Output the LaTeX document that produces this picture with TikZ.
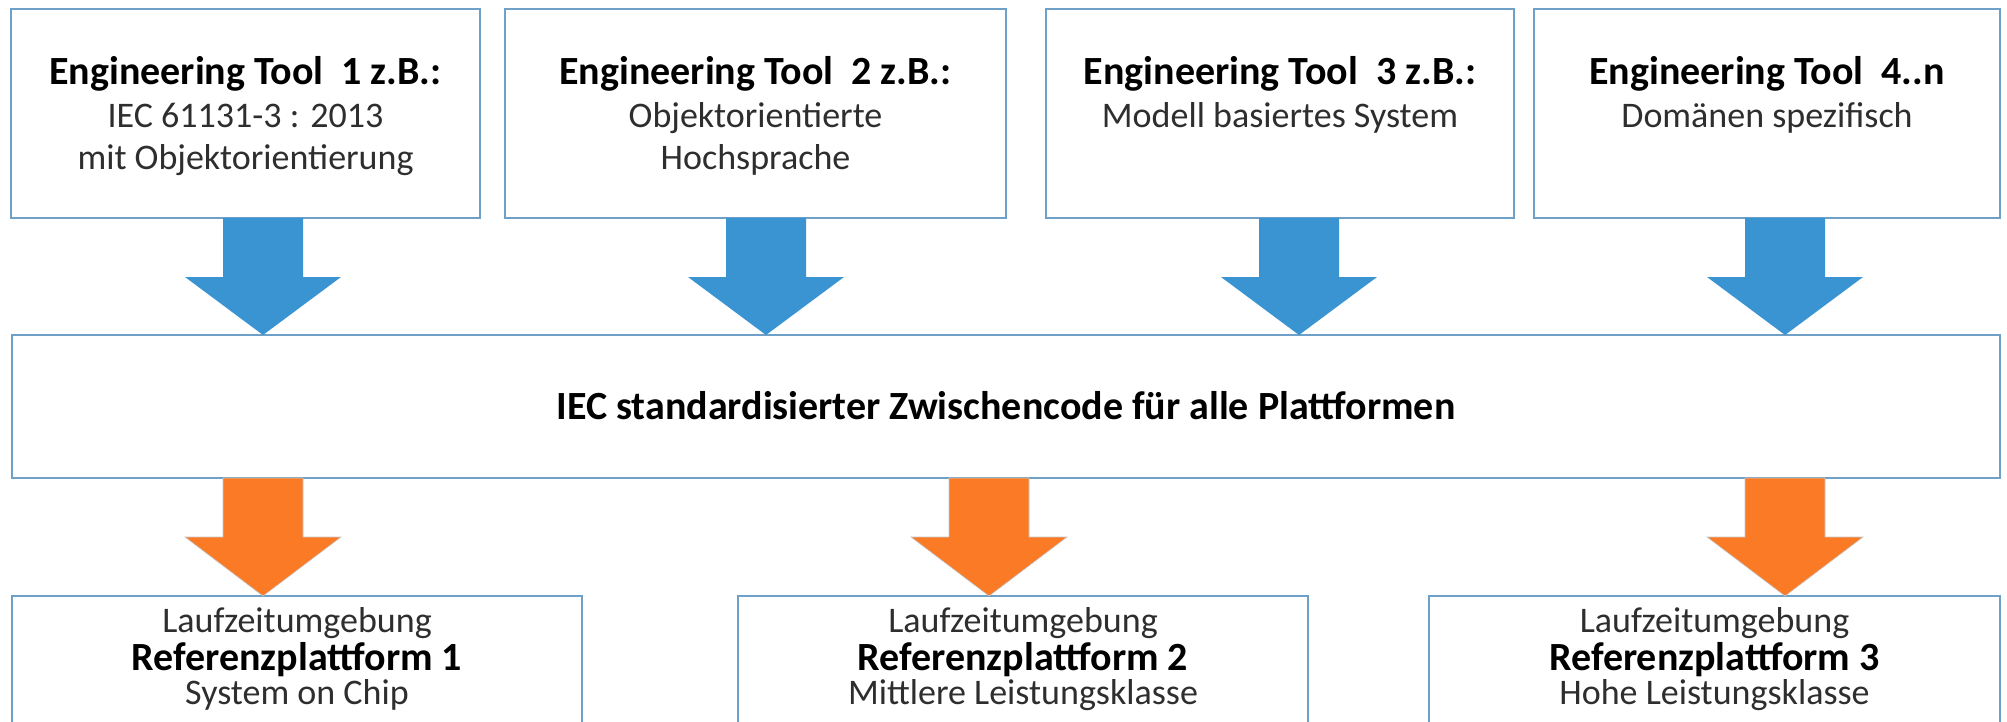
\documentclass[tikz,border=0pt]{standalone}
\usepackage{fontspec}
\setmainfont{Carlito}
\usetikzlibrary{calc}

\definecolor{frame}{HTML}{6FA0C8}
\definecolor{toolblue}{HTML}{3A94D2}
\definecolor{runorange}{HTML}{FA7A26}

\tikzset{
  box/.style={draw=frame, line width=1.6pt, fill=white, inner sep=0pt, outer sep=0pt},
  headline/.style={anchor=base, inner sep=0pt, font=\fontsize{40}{48}\bfseries, text=black},
  subline/.style={anchor=base, inner sep=0pt, font=\fontsize{36}{43}\selectfont, text=black!82},
  bluearrow/.style={fill=toolblue},
  orangearrow/.style={fill=runorange, draw=black!22, line width=0.6pt},
}

% block arrow: style, column coordinate, source node, target node, head length
\newcommand\fatarrow[5]{%
  \path[#1] let \p1=(#2 |- #3.south), \p2=(#2 |- #4.north) in
    (\x1-40pt,\y1) -- (\x1+40pt,\y1) -- (\x1+40pt,\y2+#5pt) -- (\x1+78pt,\y2+#5pt)
    -- (\x2,\y2) -- (\x1-78pt,\y2+#5pt) -- (\x1-40pt,\y2+#5pt) -- cycle;}

\begin{document}
\begin{tikzpicture}[x=1pt,y=-1pt]
\path[clip, use as bounding box] (0,0) rectangle (2007,722);
\fill[white] (0,0) rectangle (2007,722);

% engineering tools
\node[box, minimum width=469pt, minimum height=209pt] (t1) at (245.5,113.5) {};
\node[box, minimum width=501pt, minimum height=209pt] (t2) at (755.5,113.5) {};
\node[box, minimum width=468pt, minimum height=209pt] (t3) at (1280,113.5) {};
\node[box, minimum width=466pt, minimum height=209pt] (t4) at (1767,113.5) {};

\node[headline] (t1a) at ($(t1.north)+(0,76)$) {Engineering Tool~~1 z.B.:};
\node[subline]  (t1b) at ($(t1.north)+(0,119)$) {IEC 61131-3 : 2013};
\node[subline]  (t1c) at ($(t1.north)+(0,161)$) {mit Objektorientierung};

\node[headline] (t2a) at ($(t2.north)+(0,76)$) {Engineering Tool~~2 z.B.:};
\node[subline]  (t2b) at ($(t2.north)+(0,119)$) {Objektorientierte};
\node[subline]  (t2c) at ($(t2.north)+(0,161)$) {Hochsprache};

\node[headline] (t3a) at ($(t3.north)+(0,76)$) {Engineering Tool~~3 z.B.:};
\node[subline]  (t3b) at ($(t3.north)+(0,119)$) {Modell basiertes System};

\node[headline] (t4a) at ($(t4.north)+(0,76)$) {Engineering Tool~~4..n};
\node[subline]  (t4b) at ($(t4.north)+(0,119)$) {Domänen spezifisch};

% common intermediate code
\node[box, minimum width=1988pt, minimum height=143pt] (ir) at (1006,406.5) {};
\node[headline] (irt) at ($(ir.center)+(0,13)$) {IEC standardisierter Zwischencode für alle Plattformen};

% runtime platforms
\node[box, minimum width=570pt, minimum height=300pt] (r1) at (297,746) {};
\node[box, minimum width=570pt, minimum height=300pt] (r2) at (1023,746) {};
\node[box, minimum width=571pt, minimum height=300pt] (r3) at (1714.5,746) {};

\node[subline]  (r1a) at ($(r1.north)+(0,36)$) {Laufzeitumgebung};
\node[headline] (r1b) at ($(r1.north)+(0,74)$) {Referenzplattform 1};
\node[subline]  (r1c) at ($(r1.north)+(0,108)$) {System on Chip};

\node[subline]  (r2a) at ($(r2.north)+(0,36)$) {Laufzeitumgebung};
\node[headline] (r2b) at ($(r2.north)+(0,74)$) {Referenzplattform 2};
\node[subline]  (r2c) at ($(r2.north)+(0,108)$) {Mittlere Leistungsklasse};

\node[subline]  (r3a) at ($(r3.north)+(0,36)$) {Laufzeitumgebung};
\node[headline] (r3b) at ($(r3.north)+(0,74)$) {Referenzplattform 3};
\node[subline]  (r3c) at ($(r3.north)+(0,108)$) {Hohe Leistungsklasse};

% arrow columns
\coordinate (c1) at (263,0);
\coordinate (c2) at (766,0);
\coordinate (c3) at (1299,0);
\coordinate (c4) at (1785,0);
\coordinate (d1) at (263,0);
\coordinate (d2) at (989,0);
\coordinate (d3) at (1785,0);

\fatarrow{bluearrow}{c1}{t1}{ir}{58}
\fatarrow{bluearrow}{c2}{t2}{ir}{58}
\fatarrow{bluearrow}{c3}{t3}{ir}{58}
\fatarrow{bluearrow}{c4}{t4}{ir}{58}

\fatarrow{orangearrow}{d1}{ir}{r1}{59}
\fatarrow{orangearrow}{d2}{ir}{r2}{59}
\fatarrow{orangearrow}{d3}{ir}{r3}{59}
\end{tikzpicture}
\end{document}
